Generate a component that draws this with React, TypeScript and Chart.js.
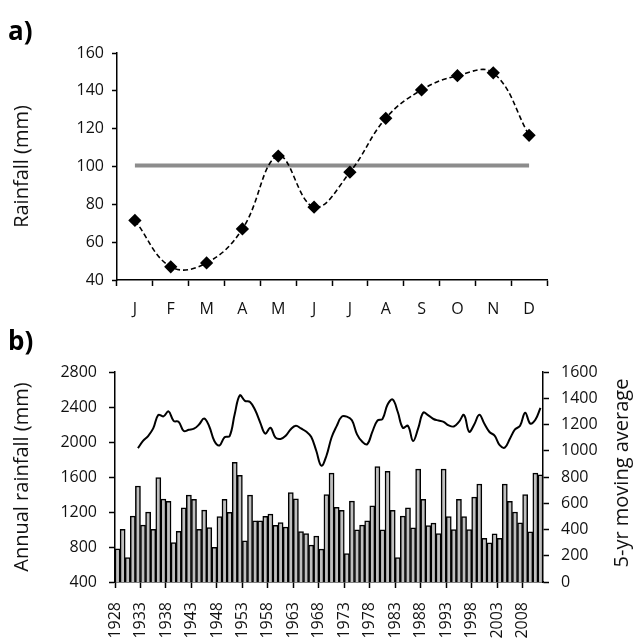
import React, { useEffect, useRef } from "react";
import { Chart, registerables } from "chart.js";

Chart.register(...registerables);

const FONT = "'Open Sans', sans-serif";
const TEXT = "#111";

// ---- panel a) monthly rainfall ----
const months = ["J", "F", "M", "A", "M", "J", "J", "A", "S", "O", "N", "D"];
const monthlyRain = [71.5, 47, 49, 67, 105.5, 78.5, 97, 125.5, 140.5, 148, 149.5, 116.5];
const monthlyMean = 100.5;
const rainAxisMin = 40;
const rainAxisMax = 160;
const rainAxisStep = 20;

// ---- panel b) annual rainfall & 5-yr moving average ----
const years = [
  "1928", "1929", "1930", "1931", "1932", "1933", "1934", "1935", "1936", "1937",
  "1938", "1939", "1940", "1941", "1942", "1943", "1944", "1945", "1946", "1947",
  "1948", "1949", "1950", "1951", "1952", "1953", "1954", "1955", "1956", "1957",
  "1958", "1959", "1960", "1961", "1962", "1963", "1964", "1965", "1966", "1967",
  "1968", "1969", "1970", "1971", "1972", "1973", "1974", "1975", "1976", "1977",
  "1978", "1979", "1980", "1981", "1982", "1983", "1984", "1985", "1986", "1987",
  "1988", "1989", "1990", "1991", "1992", "1993", "1994", "1995", "1996", "1997",
  "1998", "1999", "2000", "2001", "2002", "2003", "2004", "2005", "2006", "2007",
  "2008", "2009", "2010", "2011",
];
const annualRain = [
  778, 1003, 678, 1152, 1497, 1050, 1198, 1003, 1594, 1348,
  1322, 850, 978, 1248, 1392, 1345, 1001, 1221, 1023, 797,
  1148, 1345, 1195, 1767, 1620, 871, 1392, 1100, 1100, 1150,
  1175, 1047, 1078, 1028, 1422, 1350, 975, 952, 822, 925,
  775, 1400, 1645, 1253, 1220, 726, 1324, 997, 1050, 1100,
  1270, 1720, 997, 1665, 1220, 678, 1152, 1248, 1020, 1690,
  1346, 1046, 1073, 952, 1690, 1148, 1000, 1346, 1148, 1000,
  1370, 1520, 900, 848, 950, 898, 1518, 1322, 1200, 1075,
  1398, 972, 1645, 1625,
];
const movingAvg: (number | null)[] = [
  null, null, null, null, 1020, 1075, 1112, 1170, 1273, 1262,
  1300, 1228, 1220, 1150, 1160, 1168, 1200, 1245, 1185, 1074,
  1040, 1103, 1112, 1280, 1422, 1380, 1372, 1310, 1215, 1130,
  1175, 1100, 1090, 1114, 1164, 1190, 1170, 1147, 1106, 1000,
  886, 962, 1101, 1188, 1260, 1260, 1232, 1125, 1070, 1050,
  1144, 1230, 1242, 1352, 1390, 1295, 1175, 1190, 1074, 1170,
  1290, 1270, 1242, 1230, 1220, 1193, 1185, 1220, 1273, 1145,
  1200, 1274, 1205, 1143, 1115, 1043, 1024, 1092, 1162, 1190,
  1290, 1207, 1236, 1327,
];
const annualAxisMin = 400;
const annualAxisMax = 2800;
const annualAxisStep = 400;
const avgAxisMin = 0;
const avgAxisMax = 1600;
const avgAxisStep = 200;
const yearLabelEvery = 5;

const plain = (v: any) => String(v);

function TopChart() {
  const ref = useRef<HTMLCanvasElement>(null);
  useEffect(() => {
    const chart = new Chart(ref.current!, {
      type: "line",
      data: {
        labels: months,
        datasets: [
          {
            data: monthlyRain,
            borderColor: "#000",
            borderWidth: 1.6,
            borderDash: [5, 3],
            tension: 0.4,
            pointStyle: "rectRot",
            pointRadius: 5.5,
            pointBackgroundColor: "#000",
            pointBorderColor: "#000",
            fill: false,
          },
          {
            data: months.map(() => monthlyMean),
            borderColor: "#8c8c8c",
            borderWidth: 4,
            pointRadius: 0,
            tension: 0,
            fill: false,
          },
        ],
      },
      options: {
        responsive: false,
        animation: false,
        devicePixelRatio: 1,
        layout: { padding: { left: 0, right: 91, top: 53, bottom: 0 } },
        plugins: { legend: { display: false }, tooltip: { enabled: false } },
        scales: {
          x: {
            offset: true,
            grid: { offset: true, drawOnChartArea: false, tickLength: 6, tickColor: "#000", tickWidth: 1.5 },
            border: { color: "#000", width: 1.5 },
            ticks: { font: { family: FONT, size: 16 }, color: TEXT, padding: 14, autoSkip: false, maxRotation: 0 },
            afterFit: (s: any) => { s.height = 40; },
          },
          y: {
            min: rainAxisMin,
            max: rainAxisMax,
            ticks: { stepSize: rainAxisStep, font: { family: FONT, size: 16 }, color: TEXT, padding: 8, callback: plain },
            grid: { drawOnChartArea: false, tickLength: 5, tickColor: "#000", tickWidth: 1.5 },
            border: { color: "#000", width: 1.5 },
            title: { display: true, text: "Rainfall (mm)", font: { family: FONT, size: 20 }, color: TEXT, padding: { top: 10, bottom: 0 } },
            afterFit: (s: any) => { s.width = 117; },
          },
        },
      },
    });
    return () => chart.destroy();
  }, []);
  return <canvas ref={ref} width={638} height={320} style={{ position: "absolute", left: 0, top: 0 }} />;
}

const rightTitlePlugin = {
  id: "rightTitle",
  afterDraw(chart: any) {
    const { ctx, chartArea } = chart;
    const s = chart.scales.y1;
    ctx.save();
    ctx.translate(s.right - 16, (chartArea.top + chartArea.bottom) / 2 - 4);
    ctx.rotate(-Math.PI / 2);
    ctx.font = `20px ${FONT}`;
    ctx.fillStyle = TEXT;
    ctx.textAlign = "center";
    ctx.textBaseline = "middle";
    ctx.fillText("5-yr moving average", 0, 0);
    ctx.restore();
  },
};

function BottomChart() {
  const ref = useRef<HTMLCanvasElement>(null);
  useEffect(() => {
    const chart = new Chart(ref.current!, {
      type: "bar",
      data: {
        labels: years,
        datasets: [
          {
            type: "line",
            data: movingAvg,
            yAxisID: "y1",
            borderColor: "#000",
            borderWidth: 2,
            pointRadius: 0,
            tension: 0.4,
            fill: false,
            order: 0,
          } as any,
          {
            type: "bar",
            data: annualRain,
            yAxisID: "y",
            backgroundColor: "#bfbfbf",
            borderColor: "#000",
            borderWidth: 1.5,
            barPercentage: 1,
            categoryPercentage: 1,
            order: 1,
          },
        ],
      },
      options: {
        responsive: false,
        animation: false,
        devicePixelRatio: 1,
        layout: { padding: { left: 0, right: 0, top: 52, bottom: 0 } },
        plugins: { legend: { display: false }, tooltip: { enabled: false } },
        scales: {
          x: {
            offset: true,
            grid: {
              offset: true,
              drawOnChartArea: false,
              tickLength: 6,
              tickWidth: 1.5,
              tickColor: (c: any) => (c.index % yearLabelEvery === 0 ? "#000" : "rgba(0,0,0,0)"),
            },
            border: { color: "#000", width: 1.5 },
            ticks: {
              autoSkip: false,
              maxRotation: 90,
              minRotation: 90,
              labelOffset: -2.5,
              padding: 14,
              font: { family: FONT, size: 16 },
              color: TEXT,
              callback: (_v: any, i: number) => (i % yearLabelEvery === 0 ? years[i] : ""),
            },
            afterFit: (s: any) => { s.height = 60; },
          },
          y: {
            position: "left",
            min: annualAxisMin,
            max: annualAxisMax,
            ticks: { stepSize: annualAxisStep, font: { family: FONT, size: 16 }, color: TEXT, padding: 12, callback: plain },
            grid: { drawOnChartArea: false, tickLength: 6, tickColor: "#000", tickWidth: 1.5 },
            border: { color: "#000", width: 1.5 },
            title: { display: true, text: "Annual rainfall (mm)", font: { family: FONT, size: 20 }, color: TEXT, padding: { top: 10, bottom: 0 } },
            afterFit: (s: any) => { s.width = 115; },
          },
          y1: {
            position: "right",
            min: avgAxisMin,
            max: avgAxisMax,
            ticks: { stepSize: avgAxisStep, font: { family: FONT, size: 16 }, color: TEXT, padding: 12, callback: plain },
            grid: { drawOnChartArea: false, tickLength: 6, tickColor: "#000", tickWidth: 1.5 },
            border: { color: "#000", width: 1.5 },
            afterFit: (s: any) => { s.width = 95; },
          },
        },
      },
      plugins: [rightTitlePlugin],
    });
    return () => chart.destroy();
  }, []);
  return <canvas ref={ref} width={638} height={322} style={{ position: "absolute", left: 0, top: 320 }} />;
}

export default function App() {
  const panelLabel: React.CSSProperties = {
    position: "absolute",
    left: 8,
    fontFamily: FONT,
    fontWeight: 700,
    fontSize: 26,
    lineHeight: "30px",
    color: "#000",
  };
  return (
    <div style={{ position: "absolute", left: 0, top: 0, width: 638, height: 642, background: "#fff", overflow: "hidden" }}>
      <TopChart />
      <BottomChart />
      <div style={{ ...panelLabel, top: 15 }}>a)</div>
      <div style={{ ...panelLabel, top: 325 }}>b)</div>
    </div>
  );
}
